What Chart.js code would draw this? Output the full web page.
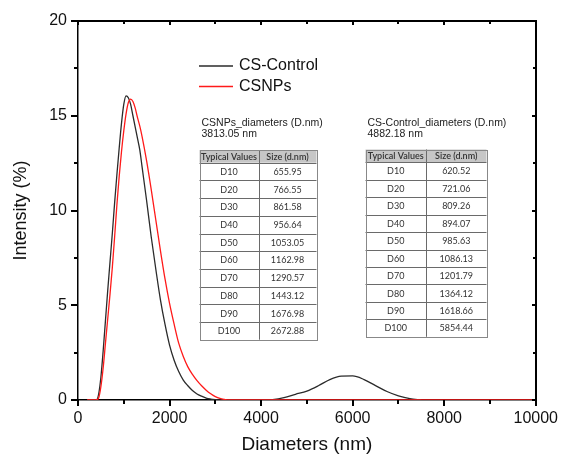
<!DOCTYPE html>
<html>
<head>
<meta charset="utf-8">
<script src="https://cdn.jsdelivr.net/npm/chart.js@4.4.1/dist/chart.umd.min.js"></script>
<style>
    html, body { margin: 0; padding: 0; background: #fff; }
    #wrap { width: 561px; height: 458px; }
</style>
</head>
<body>
<div id="wrap"><canvas id="myChart" width="561" height="458"></canvas></div>
<script>
// CS-Control size distribution (nm / %)
const controlSizes = [200, 300, 400, 450, 500, 550, 600, 650, 700, 750, 800, 850, 900, 950, 1000, 1050, 1100, 1150,
    1200, 1250, 1300, 1350, 1400, 1500, 1600, 1700, 1800, 1900, 2000, 2100, 2200, 2300, 2400, 2500, 2600, 2700,
    2800, 2900, 3000, 3100, 3500, 4000, 4250, 4500, 4750, 5000, 5250, 5500, 5750, 6000, 6250, 6500, 6750, 7000,
    7250, 7500];
const controlIntensity = [0, 0, 0, 0.3, 1.2, 2.6, 4.2, 5.8, 7.3, 8.8, 10.4, 11.9, 13.3, 14.6, 15.6, 16.05, 15.95, 15.6,
    15.0, 14.4, 13.8, 13.2, 12.3, 10.5, 8.6, 6.9, 5.3, 4.0, 2.9, 2.1, 1.5, 1.05, 0.75, 0.5, 0.32, 0.2,
    0.1, 0.05, 0.02, 0, 0, 0, 0.02, 0.12, 0.3, 0.47, 0.75, 1.08, 1.26, 1.27, 1.08, 0.76, 0.45, 0.22,
    0.07, 0];

// CSNPs size distribution
const npSizes = [200, 300, 400, 450, 500, 550, 600, 650, 700, 750, 800, 850, 900, 950, 1000, 1050, 1100, 1150,
    1200, 1250, 1300, 1350, 1400, 1500, 1600, 1700, 1800, 1900, 2000, 2100, 2200, 2300, 2400, 2500, 2600, 2700,
    2800, 2900, 3000, 3100, 3200, 3300, 10000];
const npIntensity = [0, 0, 0, 0.1, 0.7, 1.7, 3.0, 4.3, 5.6, 7.0, 8.6, 10.3, 11.8, 13.1, 14.2, 15.1, 15.7, 15.88,
    15.75, 15.4, 14.9, 14.45, 13.9, 12.6, 11.1, 9.5, 7.9, 6.4, 5.1, 4.0, 3.0, 2.3, 1.75, 1.35, 1.02, 0.75,
    0.52, 0.33, 0.18, 0.08, 0.03, 0, 0];

// table contents
const percentiles = ['D10', 'D20', 'D30', 'D40', 'D50', 'D60', 'D70', 'D80', 'D90', 'D100'];
const npDiameters = ['655.95', '766.55', '861.58', '956.64', '1053.05', '1162.98', '1290.57', '1443.12', '1676.98', '2672.88'];
const controlDiameters = ['620.52', '721.06', '809.26', '894.07', '985.63', '1086.13', '1201.79', '1364.12', '1618.66', '5854.44'];
const npMean = '3813.05 nm';
const controlMean = '4882.18 nm';

const xTicks = [0, 2000, 4000, 6000, 8000, 10000];
const xMinor = [1000, 3000, 5000, 7000, 9000];
const yTicks = [0, 5, 10, 15, 20];
const yMinor = [2.5, 7.5, 12.5, 17.5];

const BLACK = '#2b2b2b';
const RED = '#ff1a1a';
const AXIS_FONT = '"Liberation Sans", Arial, sans-serif';
const TABLE_FONT = 'Lato, "Open Sans", sans-serif';

function toPoints(xs, ys) {
    return xs.map((x, i) => ({x: x, y: ys[i]}));
}

function drawTable(ctx, left, top, w1, w2, headH, rowH, title, mean, labels, values) {
    ctx.save();
    ctx.fillStyle = '#222';
    ctx.font = '10.5px ' + AXIS_FONT;
    ctx.textAlign = 'left';
    ctx.textBaseline = 'alphabetic';
    ctx.fillText(title, left + 2, top - 24);
    ctx.fillText(mean, left + 2, top - 13);

    const w = w1 + w2;
    const h = headH + rowH * labels.length;
    ctx.fillStyle = '#c6c6c6';
    ctx.fillRect(left, top, w, headH);

    ctx.strokeStyle = '#6a6a6a';
    ctx.lineWidth = 1;
    for (let i = 1; i <= labels.length; i++) {
        let yy = Math.round(top + headH + rowH * (i - 1)) + 0.5;
        ctx.beginPath();
        ctx.moveTo(left, yy);
        ctx.lineTo(left + w, yy);
        ctx.stroke();
    }
    ctx.beginPath();
    ctx.moveTo(Math.round(left + w1) + 0.5, top);
    ctx.lineTo(Math.round(left + w1) + 0.5, top + h);
    ctx.stroke();
    ctx.strokeStyle = '#888';
    ctx.strokeRect(Math.round(left) + 0.5, Math.round(top) + 0.5, Math.round(w), Math.round(h));

    ctx.fillStyle = '#333';
    ctx.font = '600 9px ' + TABLE_FONT;
    ctx.textAlign = 'center';
    ctx.textBaseline = 'middle';
    ctx.fillText('Typical Values', left + w1 / 2, top + headH / 2 + 0.5);
    ctx.fillText('Size (d.nm)', left + w1 + w2 / 2, top + headH / 2 + 0.5);
    ctx.font = '9px ' + TABLE_FONT;
    labels.forEach((lab, i) => {
        let yy = top + headH + rowH * i + rowH / 2 + 0.5;
        ctx.fillText(lab, left + w1 / 2, yy);
        ctx.fillText(values[i], left + w1 + w2 / 2, yy);
    });
    ctx.restore();
}

const decorations = {
    id: 'decorations',
    afterDraw(chart) {
        const c = chart.ctx;
        const a = chart.chartArea;
        const xs = chart.scales.x;
        const ys = chart.scales.y;
        const L = Math.round(a.left), R = Math.round(a.right), T = Math.round(a.top), B = Math.round(a.bottom);
        c.save();
        c.fillStyle = '#000';
        // frame: top and right
        c.fillRect(L - 1, T - 1, R - L + 2, 2);
        c.fillRect(R - 1, T - 1, 2, B - T + 2);
        // ticks
        xTicks.forEach(v => {
            let px = Math.round(xs.getPixelForValue(v));
            c.fillRect(px - 1, B, 2, 6);
            c.fillRect(px - 1, T, 2, 4);
        });
        xMinor.forEach(v => {
            let px = Math.round(xs.getPixelForValue(v));
            c.fillRect(px - 1, B, 2, 4);
            c.fillRect(px - 1, T, 2, 3);
        });
        yTicks.forEach(v => {
            let py = Math.round(ys.getPixelForValue(v));
            c.fillRect(L - 7, py - 1, 7, 2);
            c.fillRect(R - 4, py - 1, 4, 2);
        });
        yMinor.forEach(v => {
            let py = Math.round(ys.getPixelForValue(v));
            c.fillRect(L - 4, py - 1, 4, 2);
            c.fillRect(R - 3, py - 1, 3, 2);
        });

        // legend
        c.font = '16px ' + AXIS_FONT;
        c.textBaseline = 'middle';
        c.lineWidth = 1.3;
        [['CS-Control', BLACK, 66], ['CSNPs', RED, 86.5]].forEach(item => {
            c.strokeStyle = item[1];
            c.beginPath();
            c.moveTo(199, item[2]);
            c.lineTo(233, item[2]);
            c.stroke();
            c.fillStyle = '#111';
            c.fillText(item[0], 239, item[2]);
        });
        c.restore();

        drawTable(c, 199.5, 150, 59, 58, 12.7, 17.7, 'CSNPs_diameters (D.nm)', npMean, percentiles, npDiameters);
        drawTable(c, 365.5, 149.5, 60.5, 60.5, 12.8, 17.45, 'CS-Control_diameters (D.nm)', controlMean, percentiles, controlDiameters);
    }
};

const ctx = document.getElementById('myChart').getContext('2d');
const myChart = new Chart(ctx, {
    type: 'line',
    data: {
        datasets: [{
            label: 'CSNPs',
            data: toPoints(npSizes, npIntensity),
            borderColor: RED,
            borderWidth: 1.3,
            pointRadius: 0,
            cubicInterpolationMode: 'monotone',
            fill: false
        }, {
            label: 'CS-Control',
            data: toPoints(controlSizes, controlIntensity),
            borderColor: BLACK,
            borderWidth: 1.3,
            pointRadius: 0,
            cubicInterpolationMode: 'monotone',
            fill: false
        }]
    },
    options: {
        responsive: false,
        animation: false,
        layout: {padding: {top: 21, right: 23, left: 0, bottom: 0}},
        plugins: {legend: {display: false}, tooltip: {enabled: false}},
        scales: {
            x: {
                type: 'linear',
                min: 0,
                max: 10000,
                afterFit: s => { s.height = 58; },
                afterBuildTicks: s => { s.ticks = xTicks.map(v => ({value: v})); },
                ticks: {
                    font: {size: 16, family: AXIS_FONT}, color: '#111', padding: 3, maxRotation: 0,
                    callback: v => String(v)
                },
                grid: {drawOnChartArea: false, drawTicks: true, tickLength: 6, tickColor: 'rgba(0,0,0,0)'},
                border: {color: '#000', width: 1.5},
                title: {display: true, text: 'Diameters (nm)', font: {size: 19, family: AXIS_FONT}, color: '#111', padding: {top: 0, bottom: 2}}
            },
            y: {
                min: 0,
                max: 20,
                afterFit: s => { s.width = 78; },
                afterBuildTicks: s => { s.ticks = yTicks.map(v => ({value: v})); },
                ticks: {font: {size: 16, family: AXIS_FONT}, color: '#111', padding: 4, callback: v => String(v)},
                grid: {drawOnChartArea: false, drawTicks: true, tickLength: 7, tickColor: 'rgba(0,0,0,0)'},
                border: {color: '#000', width: 1.5},
                title: {display: true, text: 'Intensity (%)', font: {size: 18, family: AXIS_FONT}, color: '#111', padding: {top: 10, bottom: 0}}
            }
        }
    },
    plugins: [decorations]
});
</script>
</body>
</html>
